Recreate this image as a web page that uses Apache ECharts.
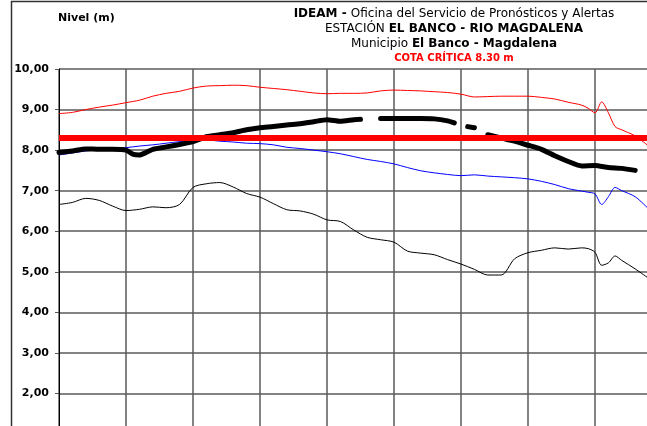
<!DOCTYPE html>
<html>
<head>
<meta charset="utf-8">
<script src="https://cdn.jsdelivr.net/npm/echarts@6/dist/echarts.min.js"></script>
<style>
  html, body { margin: 0; padding: 0; background: #fff; }
  #chart { width: 647px; height: 426px; }
</style>
</head>
<body>
<div id="chart"></div>
<script>
// dias del periodo (eje x), una linea vertical cada 10 dias
const days = [0, 2, 4, 6, 8, 10, 12, 14, 16, 18, 20, 22, 24, 26, 28, 30, 32, 34, 36, 38,
  40, 42, 44, 46, 48, 50, 52, 54, 56, 58, 60, 62, 64, 66, 68, 70, 72, 74, 76, 78,
  79, 80, 81, 82, 83, 84, 86, 88];

// nivel maximo (rojo), medio (azul) y minimo (negro fino)
const levelMax = [8.90, 8.93, 9.00, 9.06, 9.11, 9.17, 9.23, 9.33, 9.40, 9.45, 9.53, 9.58, 9.59, 9.60, 9.59, 9.55, 9.52, 9.49, 9.45, 9.41,
  9.39, 9.40, 9.40, 9.41, 9.46, 9.48, 9.47, 9.46, 9.44, 9.42, 9.38, 9.31, 9.32, 9.33, 9.33, 9.33, 9.30, 9.26, 9.18, 9.11,
  9.03, 8.92, 9.19, 8.92, 8.58, 8.50, 8.35, 8.10];
const levelMean = [7.88, 7.93, 7.98, 8.01, 8.04, 8.06, 8.10, 8.13, 8.17, 8.21, 8.24, 8.25, 8.22, 8.20, 8.17, 8.16, 8.13, 8.07, 8.04, 8.00,
  7.96, 7.91, 7.84, 7.77, 7.72, 7.66, 7.57, 7.49, 7.44, 7.40, 7.37, 7.39, 7.36, 7.34, 7.32, 7.29, 7.23, 7.15, 7.05, 6.99,
  6.96, 6.92, 6.66, 6.85, 7.08, 7.00, 6.85, 6.55];
const levelMin = [6.66, 6.71, 6.81, 6.76, 6.62, 6.51, 6.54, 6.60, 6.58, 6.66, 7.08, 7.17, 7.20, 7.09, 6.93, 6.84, 6.68, 6.53, 6.50, 6.42,
  6.28, 6.24, 6.03, 5.85, 5.79, 5.73, 5.51, 5.46, 5.42, 5.30, 5.19, 5.06, 4.92, 4.92, 5.32, 5.47, 5.53, 5.59, 5.56, 5.59,
  5.57, 5.48, 5.16, 5.22, 5.39, 5.28, 5.07, 4.84];

// nivel observado (negro grueso), null = sin dato
const obsDays = [0, 2, 4, 6, 8, 10, 11, 12, 13, 14, 16, 18, 20, 22, 24, 26, 28, 30, 32, 34,
  36, 38, 40, 42, 44, 45, 46, 48, 50, 52, 54, 56, 58, 59, 60, 61, 62, 63, 64, 66,
  68, 70, 72, 74, 76, 78, 80, 82, 84, 86];
const obsLevel = [7.94, 7.98, 8.03, 8.02, 8.02, 8.00, 7.90, 7.88, 7.94, 8.02, 8.08, 8.14, 8.21, 8.33, 8.38, 8.43, 8.50, 8.55, 8.58, 8.62,
  8.65, 8.70, 8.75, 8.71, 8.75, 8.76, null, 8.78, 8.78, 8.78, 8.78, 8.77, 8.72, 8.67, null, 8.58, 8.55, null, 8.38, 8.30,
  8.22, 8.12, 8.02, 7.86, 7.72, 7.61, 7.62, 7.57, 7.55, 7.50];

const cotaCritica = 8.30;
const yTicks = [1, 10, 1]; // min, max, intervalo

const pairs = (xs, ys) => xs.map((x, i) => [x, ys[i] == null ? '-' : ys[i]]);

const chart = echarts.init(document.getElementById('chart'));
chart.setOption({
  animation: false,
  textStyle: { fontFamily: 'DejaVu Sans' },
  grid: { left: 59, right: -15, top: 69, bottom: -8, containLabel: false, outerBoundsMode: 'none' },
  xAxis: {
    type: 'value',
    min: 0, max: 90, interval: 10,
    axisLine: { show: false },
    axisTick: { show: false },
    axisLabel: { show: false },
    splitLine: { show: true, lineStyle: { color: '#5a5a5a', width: 1.5 } }
  },
  yAxis: {
    type: 'value',
    min: yTicks[0], max: yTicks[1], interval: yTicks[2],
    axisLine: { show: true, lineStyle: { color: '#000', width: 1 } },
    axisTick: { show: true, length: 4, lineStyle: { color: '#555' } },
    axisLabel: {
      margin: 10,
      color: '#000',
      fontFamily: 'DejaVu Sans',
      fontWeight: 'bold',
      fontSize: 11,
      formatter: v => v.toFixed(2).replace('.', ',')
    },
    splitLine: { show: true, lineStyle: { color: '#5a5a5a', width: 1.5 } }
  },
  graphic: [
    { type: 'rect', silent: true, shape: { x: 11.5, y: 1.5, width: 700, height: 500 },
      style: { fill: 'none', stroke: '#333', lineWidth: 1.5 } },
    { type: 'text', silent: true,
      style: { x: 58, y: 18, text: 'Nivel (m)', font: 'bold 11px "DejaVu Sans"', fill: '#000', verticalAlign: 'middle' } },
    { type: 'text', silent: true,
      style: { x: 454, y: 14, align: 'center', verticalAlign: 'middle',
        text: '{b|IDEAM - }{n|Oficina del Servicio de Pronósticos y Alertas}',
        rich: { b: { font: 'bold 12px "DejaVu Sans"', fill: '#000' }, n: { font: '12px "DejaVu Sans"', fill: '#000' } } } },
    { type: 'text', silent: true,
      style: { x: 454, y: 29, align: 'center', verticalAlign: 'middle',
        text: '{n|ESTACIÓN }{b|EL BANCO - RIO MAGDALENA}',
        rich: { b: { font: 'bold 12px "DejaVu Sans"', fill: '#000' }, n: { font: '12px "DejaVu Sans"', fill: '#000' } } } },
    { type: 'text', silent: true,
      style: { x: 454, y: 44, align: 'center', verticalAlign: 'middle',
        text: '{n|Municipio }{b|El Banco - Magdalena}',
        rich: { b: { font: 'bold 12px "DejaVu Sans"', fill: '#000' }, n: { font: '12px "DejaVu Sans"', fill: '#000' } } } },
    { type: 'text', silent: true,
      style: { x: 454, y: 58, align: 'center', verticalAlign: 'middle',
        text: 'COTA CRÍTICA 8.30 m', font: 'bold 10px "DejaVu Sans"', fill: '#ff0000' } }
  ],
  series: [
    {
      name: 'Maximo', type: 'line', data: pairs(days, levelMax),
      smooth: 0.3, symbol: 'none', lineStyle: { color: '#ff0000', width: 1 }
    },
    {
      name: 'Medio', type: 'line', data: pairs(days, levelMean),
      smooth: 0.3, symbol: 'none', lineStyle: { color: '#0000ff', width: 1 }
    },
    {
      name: 'Minimo', type: 'line', data: pairs(days, levelMin),
      smooth: 0.3, symbol: 'none', lineStyle: { color: '#000', width: 1 }
    },
    {
      name: 'Observado', type: 'line', data: pairs(obsDays, obsLevel),
      smooth: 0.2, symbol: 'none', connectNulls: false,
      lineStyle: { color: '#000', width: 5, cap: 'round', join: 'round' }
    },
    {
      name: 'Cota critica', type: 'line', data: [], z: 10,
      markLine: {
        silent: true, symbol: 'none', label: { show: false },
        lineStyle: { color: '#ff0000', width: 6, type: 'solid' },
        data: [{ yAxis: cotaCritica }]
      }
    }
  ]
});
</script>
</body>
</html>
